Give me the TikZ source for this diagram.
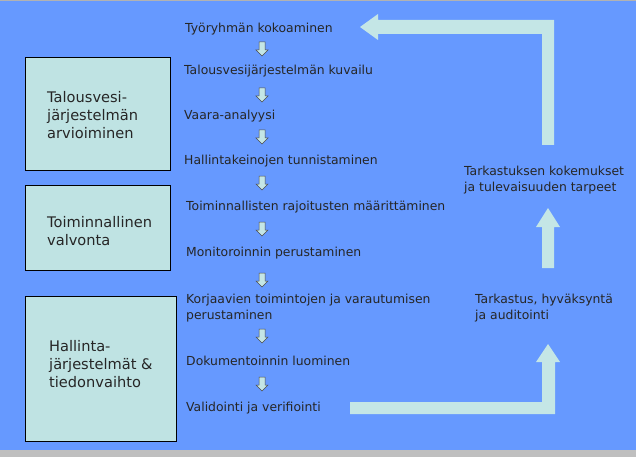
\documentclass[tikz,border=0pt]{standalone}
\usepackage{fontspec}
\setmainfont{DejaVu Sans}
\begin{document}
\begin{tikzpicture}[x=1pt,y=-1pt,
  lbl/.style={anchor=west,inner sep=0pt,font=\fontsize{12.4}{16}\selectfont,align=left,text=black!85},
  blbl/.style={anchor=west,inner sep=0pt,font=\fontsize{14.6}{18}\selectfont,align=left,text=black!85},
  bx/.style={draw=black,fill=boxc,line width=0.8pt}]
\definecolor{bg}{HTML}{6699FF}
\definecolor{boxc}{HTML}{BFE3E3}
\definecolor{arr}{HTML}{C4E6E6}
\useasboundingbox (0,0) rectangle (636,457);
\fill[bg] (0,0) rectangle (636,457);
\fill[gray!60] (0,0) rectangle (636,1.5);
\fill[gray!50] (0,450) rectangle (636,457);
% boxes
\draw[bx] (25,57) rectangle (170,170);
\draw[bx] (25,185) rectangle (170,270);
\draw[bx] (25,296) rectangle (176,441);
\node[blbl] (t1) at (47,115) {Talousvesi-\\järjestelmän\\arvioiminen};
\node[blbl] (t2) at (47,231) {Toiminnallinen\\valvonta};
\node[blbl] (t3) at (49,364) {Hallinta-\\järjestelmät \&\\tiedonvaihto};
% steps
\node[lbl] (s1) at (185,29) {Työryhmän kokoaminen};
\node[lbl] (s2) at (184,71) {Talousvesijärjestelmän kuvailu};
\node[lbl] (s3) at (184,116) {Vaara-analyysi};
\node[lbl] (s4) at (184,161) {Hallintakeinojen tunnistaminen};
\node[lbl] (s5) at (186,207) {Toiminnallisten rajoitusten määrittäminen};
\node[lbl] (s6) at (186,253) {Monitoroinnin perustaminen};
\node[lbl] (s7) at (186,308) {Korjaavien toimintojen ja varautumisen\\perustaminen};
\node[lbl] (s8) at (186,361) {Dokumentoinnin luominen};
\node[lbl] (s9) at (186,408) {Validointi ja verifiointi};
\node[lbl] (r1) at (464,180) {Tarkastuksen kokemukset\\ja tulevaisuuden tarpeet};
\node[lbl] (r2) at (475,308) {Tarkastus, hyväksyntä\\ja auditointi};
% small arrows
\foreach \y in {42,88,130,176,222,273,329,377}{
  \draw[fill=arr,draw=black!70,line width=0.5pt]
    (259,\y) -- (265,\y) -- (265,\y+8) -- (268,\y+8) -- (262,\y+14) -- (256,\y+8) -- (259,\y+8) -- cycle;}
% big arrows
\fill[arr] (554,145) -- (542,145) -- (542,34) -- (378,34) -- (378,40) -- (360,27) -- (378,14) -- (378,20) -- (554,20) -- cycle;
\fill[arr] (554,268) -- (542,268) -- (542,227) -- (536,227) -- (548,208) -- (560,227) -- (554,227) -- cycle;
\fill[arr] (350,402) -- (542,402) -- (542,362) -- (536,362) -- (548,344) -- (560,362) -- (555,362) -- (555,414) -- (350,414) -- cycle;
\end{tikzpicture}
\end{document}
